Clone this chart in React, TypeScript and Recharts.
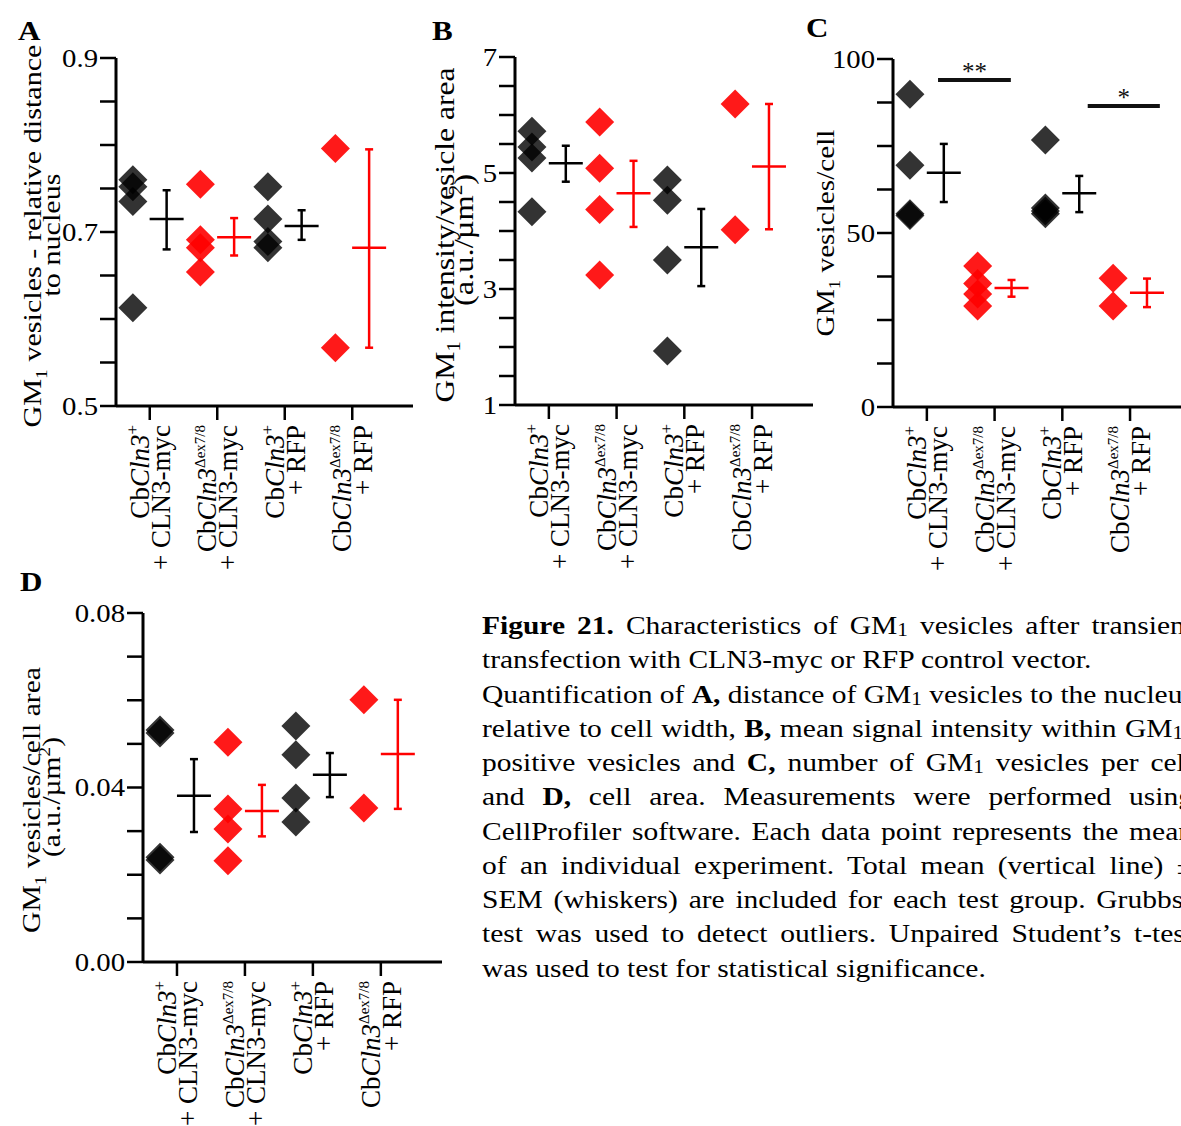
import React from 'react';
import { ScatterChart, Scatter, XAxis, YAxis, ErrorBar, ReferenceLine } from 'recharts';

const TIMES = '"Liberation Serif", "Times New Roman", serif';
const STRETCH = 1.15;

// ---- categories (x axis) ----
const groupPrefix = ['Cb', 'Cb', 'Cb', 'Cb'];
const groupGene = ['Cln3', 'Cln3', 'Cln3', 'Cln3'];
const groupAllele = ['+', 'Δex7/8', '+', 'Δex7/8'];
const groupVector = ['+ CLN3-myc', '+ CLN3-myc', '+ RFP', '+ RFP'];
const groupDotPos = [0, 2, 4, 6];
const groupMeanPos = [1, 3, 5, 7];
const groupTickPos = [0.5, 2.5, 4.5, 6.5];
const xDomain: [number, number] = [-0.5, 8.3];

// ---- Panel A: relative distance to nucleus ----
const aPoints = [[0.760, 0.752, 0.735, 0.613], [0.755, 0.691, 0.682, 0.654], [0.752, 0.715, 0.689, 0.682], [0.796, 0.567]];
const aMean = [0.715, 0.694, 0.707, 0.682];
const aHigh = [0.748, 0.716, 0.725, 0.795];
const aLow = [0.680, 0.673, 0.691, 0.567];
const aTicks = [0.5, 0.55, 0.6, 0.65, 0.7, 0.75, 0.8, 0.85, 0.9];
const aLabelValues = [0.5, 0.7, 0.9];
const aLabelTexts = ['0.5', '0.7', '0.9'];

// ---- Panel B: intensity / vesicle area ----
const bPoints = [[5.72, 5.45, 5.26, 4.33], [5.88, 5.08, 4.37, 3.24], [4.88, 4.53, 3.50, 1.93], [6.19, 4.02]];
const bMean = [5.17, 4.65, 3.72, 5.11];
const bHigh = [5.47, 5.21, 4.38, 6.19];
const bLow = [4.85, 4.07, 3.05, 4.03];
const bTicks = [1, 1.5, 2, 2.5, 3, 3.5, 4, 4.5, 5, 5.5, 6, 6.5, 7];
const bLabelValues = [1, 3, 5, 7];
const bLabelTexts = ['1', '3', '5', '7'];

// ---- Panel C: vesicles / cell ----
const cPoints = [[89.9, 69.5, 55.5, 55.0], [40.5, 35.5, 32.5, 29.0], [76.7, 57.2, 56.3, 55.5], [37.0, 29.0]];
const cMean = [67.3, 34.2, 61.4, 32.8];
const cHigh = [75.6, 36.5, 66.4, 36.9];
const cLow = [58.9, 31.7, 56.0, 28.7];
const cTicks = [0, 12.5, 25, 37.5, 50, 62.5, 75, 87.5, 100];
const cLabelValues = [0, 50, 100];
const cLabelTexts = ['0', '50', '100'];
const cSigFrom = [0.83, 5.25];
const cSigTo = [2.98, 7.38];
const cSigY = [94.0, 86.5];
const cSigText = ['**', '*'];

// ---- Panel D: vesicles / cell area ----
const dPoints = [[0.0532, 0.0525, 0.0240, 0.0234], [0.0504, 0.0351, 0.0305, 0.0232], [0.0541, 0.0475, 0.0376, 0.0321], [0.0601, 0.0353]];
const dMean = [0.0381, 0.0346, 0.0429, 0.0477];
const dHigh = [0.0465, 0.0406, 0.0479, 0.0601];
const dLow = [0.0298, 0.0288, 0.0378, 0.0351];
const dTicks = [0, 0.01, 0.02, 0.03, 0.04, 0.05, 0.06, 0.07, 0.08];
const dLabelValues = [0, 0.04, 0.08];
const dLabelTexts = ['0.00', '0.04', '0.08'];

type Seg = { t: string; b?: boolean; sub?: boolean };
const captionLines: { segs: Seg[]; justify: boolean }[] = [
  { segs: [{ t: 'Figure 21.', b: true }, { t: ' Characteristics of GM' }, { t: '1', sub: true }, { t: ' vesicles after transient' }], justify: true },
  { segs: [{ t: 'transfection with CLN3-myc or RFP control vector.' }], justify: false },
  { segs: [{ t: 'Quantification of ' }, { t: 'A,', b: true }, { t: ' distance of GM' }, { t: '1', sub: true }, { t: ' vesicles to the nucleus' }], justify: true },
  { segs: [{ t: 'relative to cell width, ' }, { t: 'B,', b: true }, { t: ' mean signal intensity within GM' }, { t: '1', sub: true }, { t: '-' }], justify: true },
  { segs: [{ t: 'positive vesicles and ' }, { t: 'C,', b: true }, { t: ' number of GM' }, { t: '1', sub: true }, { t: ' vesicles per cell' }], justify: true },
  { segs: [{ t: 'and ' }, { t: 'D,', b: true }, { t: ' cell area. Measurements were performed using' }], justify: true },
  { segs: [{ t: 'CellProfiler software. Each data point represents the mean' }], justify: true },
  { segs: [{ t: 'of an individual experiment. Total mean (vertical line) ±' }], justify: true },
  { segs: [{ t: 'SEM (whiskers) are included for each test group. Grubbs’' }], justify: true },
  { segs: [{ t: 'test was used to detect outliers. Unpaired Student’s t-test' }], justify: true },
  { segs: [{ t: 'was used to test for statistical significance.' }], justify: false },
];

const X_AXIS_H = 175;
const RIGHT = 20;

type PanelDef = {
  left: number; top: number; axisX: number; plotWidth: number; plotTop: number; plotBottom: number;
  yDomain: [number, number]; yTicks: number[]; yLabelValues: number[]; yLabelTexts: string[];
  points: number[][]; mean: number[]; high: number[]; low: number[];
  sig?: boolean;
};

const diamondShape = (fill: string, opacity: number) => (props: any) => {
  const { cx, cy } = props;
  const r = 14.5;
  return <polygon points={`${cx},${cy - r} ${cx + r},${cy} ${cx},${cy + r} ${cx - r},${cy}`} fill={fill} fillOpacity={opacity} />;
};

const meanShape = (stroke: string) => (props: any) => {
  const { cx, cy } = props;
  return <line x1={cx - 17} x2={cx + 17} y1={cy} y2={cy} stroke={stroke} strokeWidth={2.5} />;
};

const XTick = (props: any) => {
  const { x, y, payload } = props;
  const i = groupTickPos.indexOf(payload.value);
  if (i < 0) return <g />;
  const sup = groupAllele[i];
  const supSize = sup === '+' ? 17 : 15;
  return (
    <g fontFamily={TIMES} fontSize={27} fill="#000">
      <text transform={`translate(${x - 1},${y}) rotate(-90)`} textAnchor="end">
        {groupPrefix[i]}
        <tspan fontStyle="italic">{groupGene[i]}</tspan>
        <tspan fontSize={supSize} dy={-11}>{sup}</tspan>
      </text>
      <text transform={`translate(${x + 20},${y}) rotate(-90)`} textAnchor="end">{groupVector[i]}</text>
    </g>
  );
};

const makeYTick = (values: number[], texts: string[]) => (props: any) => {
  const { x, y, payload } = props;
  const i = values.indexOf(payload.value);
  if (i < 0) return <g />;
  return (
    <text transform={`translate(${x},${y}) scale(${STRETCH},1)`} dy="0.34em" textAnchor="end" fontFamily={TIMES} fontSize={25} fill="#000">
      {texts[i]}
    </text>
  );
};

function Panel({ d }: { d: PanelDef }) {
  const yAxisWidth = d.axisX - d.left;
  const W = yAxisWidth + d.plotWidth + RIGHT;
  const H = d.plotBottom - d.top + X_AXIS_H;
  const dots = (parity: number) =>
    d.points.flatMap((vals, g) => (g % 2 === parity ? vals.map((v) => ({ x: groupDotPos[g], y: v })) : []));
  const means = (parity: number) =>
    d.mean.flatMap((m, g) => (g % 2 === parity ? [{ x: groupMeanPos[g], y: m, err: [m - d.low[g], d.high[g] - m] }] : []));
  return (
    <div style={{ position: 'absolute', left: d.left, top: d.top, width: W, height: H }}>
      <ScatterChart width={W} height={H} margin={{ top: d.plotTop - d.top, right: RIGHT, bottom: 0, left: 0 }}>
        <XAxis
          type="number"
          dataKey="x"
          domain={xDomain}
          ticks={groupTickPos}
          interval={0}
          allowDataOverflow
          height={X_AXIS_H}
          tickSize={14}
          tickMargin={5}
          axisLine={{ stroke: '#000', strokeWidth: 3 }}
          tickLine={{ stroke: '#000', strokeWidth: 2.5 }}
          tick={XTick}
        />
        <YAxis
          type="number"
          dataKey="y"
          domain={d.yDomain}
          ticks={d.yTicks}
          interval={0}
          allowDataOverflow
          width={yAxisWidth}
          tickSize={16}
          tickMargin={2}
          axisLine={{ stroke: '#000', strokeWidth: 3 }}
          tickLine={{ stroke: '#000', strokeWidth: 2.5 }}
          tick={makeYTick(d.yLabelValues, d.yLabelTexts)}
        />
        {d.sig &&
          cSigY.map((yv, k) => (
            <ReferenceLine
              key={k}
              segment={[{ x: cSigFrom[k], y: yv }, { x: cSigTo[k], y: yv }]}
              stroke="#111"
              strokeWidth={4}
              ifOverflow="visible"
              label={{ value: cSigText[k], position: 'top', offset: 0, fill: '#111', fontSize: 25, fontFamily: TIMES }}
            />
          ))}
        <Scatter data={dots(0)} shape={diamondShape('#000', 0.8)} isAnimationActive={false} />
        <Scatter data={dots(1)} shape={diamondShape('#ff0000', 0.9)} isAnimationActive={false} />
        <Scatter data={means(0)} shape={meanShape('#000')} isAnimationActive={false}>
          <ErrorBar dataKey="err" direction="y" width={4} stroke="#000" strokeWidth={2.5} isAnimationActive={false} />
        </Scatter>
        <Scatter data={means(1)} shape={meanShape('#ff0000')} isAnimationActive={false}>
          <ErrorBar dataKey="err" direction="y" width={4} stroke="#ff0000" strokeWidth={2.5} isAnimationActive={false} />
        </Scatter>
      </ScatterChart>
    </div>
  );
}

const panels: PanelDef[] = [
  { left: 0, top: 0, axisX: 116, plotWidth: 297, plotTop: 58, plotBottom: 406, yDomain: [0.5, 0.9], yTicks: aTicks, yLabelValues: aLabelValues, yLabelTexts: aLabelTexts, points: aPoints, mean: aMean, high: aHigh, low: aLow },
  { left: 400, top: 0, axisX: 515, plotWidth: 298, plotTop: 57, plotBottom: 405, yDomain: [1, 7], yTicks: bTicks, yLabelValues: bLabelValues, yLabelTexts: bLabelTexts, points: bPoints, mean: bMean, high: bHigh, low: bLow },
  { left: 790, top: 0, axisX: 893, plotWidth: 298, plotTop: 59, plotBottom: 407, yDomain: [0, 100], yTicks: cTicks, yLabelValues: cLabelValues, yLabelTexts: cLabelTexts, points: cPoints, mean: cMean, high: cHigh, low: cLow, sig: true },
  { left: 0, top: 560, axisX: 143, plotWidth: 299, plotTop: 613, plotBottom: 962, yDomain: [0, 0.08], yTicks: dTicks, yLabelValues: dLabelValues, yLabelTexts: dLabelTexts, points: dPoints, mean: dMean, high: dHigh, low: dLow },
];

function YTitle({ x, y, size, len, gm, rest }: { x: number; y: number; size: number; len: number; gm: boolean; rest: string }) {
  const supIdx = rest.indexOf('µm');
  let content: React.ReactNode = rest;
  if (supIdx >= 0) {
    content = (
      <>
        {rest.slice(0, supIdx + 2)}
        <tspan fontSize={size * 0.65} dy={-size * 0.4}>2</tspan>
        <tspan dy={size * 0.4}>{rest.slice(supIdx + 2)}</tspan>
      </>
    );
  }
  return (
    <text
      transform={`translate(${x},${y}) rotate(-90)`}
      textAnchor="middle"
      fontFamily={TIMES}
      fontSize={size}
      fill="#000"
      textLength={len}
      lengthAdjust="spacingAndGlyphs"
    >
      {gm ? (
        <>
          GM
          <tspan fontSize={size * 0.65} dy={size * 0.22}>1</tspan>
          <tspan dy={-size * 0.22}>{rest}</tspan>
        </>
      ) : (
        content
      )}
    </text>
  );
}

const CAP_SCALE = 1.18;

export default function App() {
  return (
    <div style={{ position: 'absolute', left: 0, top: 0, width: 1181, height: 1126, overflow: 'hidden', background: '#fff' }}>
      {panels.map((p, i) => (
        <Panel key={i} d={p} />
      ))}
      <svg width={1181} height={1126} style={{ position: 'absolute', left: 0, top: 0, pointerEvents: 'none' }}>
        <g fontFamily={TIMES} fontWeight="bold" fontSize={27} fill="#000">
          <text transform={`translate(18,40) scale(${STRETCH},1)`}>A</text>
          <text transform={`translate(432,40) scale(${STRETCH},1)`}>B</text>
          <text transform={`translate(806,37) scale(${STRETCH},1)`}>C</text>
          <text transform={`translate(20,591) scale(${STRETCH},1)`}>D</text>
        </g>
        <YTitle x={41} y={236} size={26} len={383} gm rest=" vesicles - relative distance" />
        <YTitle x={60} y={235} size={26} len={123} gm={false} rest="to nucleus" />
        <YTitle x={454} y={235} size={28} len={335} gm rest=" intensity/vesicle area" />
        <YTitle x={473} y={240} size={28} len={132} gm={false} rest="(a.u./µm)" />
        <YTitle x={834} y={233} size={26} len={207} gm rest=" vesicles/cell" />
        <YTitle x={40} y={800} size={26} len={266} gm rest=" vesicles/cell area" />
        <YTitle x={60} y={797} size={26} len={120} gm={false} rest="(a.u./µm)" />
      </svg>
      <div
        style={{
          position: 'absolute',
          left: 482,
          top: 609,
          width: 711 / CAP_SCALE,
          transform: `scaleX(${CAP_SCALE})`,
          transformOrigin: '0 0',
          fontFamily: TIMES,
          fontSize: 25,
          lineHeight: '34.25px',
          color: '#000',
        }}
      >
        {captionLines.map((ln, i) => (
          <div
            key={i}
            style={{
              height: 34.25,
              whiteSpace: 'nowrap',
              textAlign: ln.justify ? 'justify' : 'left',
              textAlignLast: ln.justify ? 'justify' : 'left',
            } as React.CSSProperties}
          >
            {ln.segs.map((s, k) =>
              s.sub ? (
                <span key={k} style={{ fontSize: '0.72em', verticalAlign: '-0.12em', lineHeight: 0 }}>{s.t}</span>
              ) : s.b ? (
                <b key={k}>{s.t}</b>
              ) : (
                <span key={k}>{s.t}</span>
              )
            )}
          </div>
        ))}
      </div>
    </div>
  );
}
